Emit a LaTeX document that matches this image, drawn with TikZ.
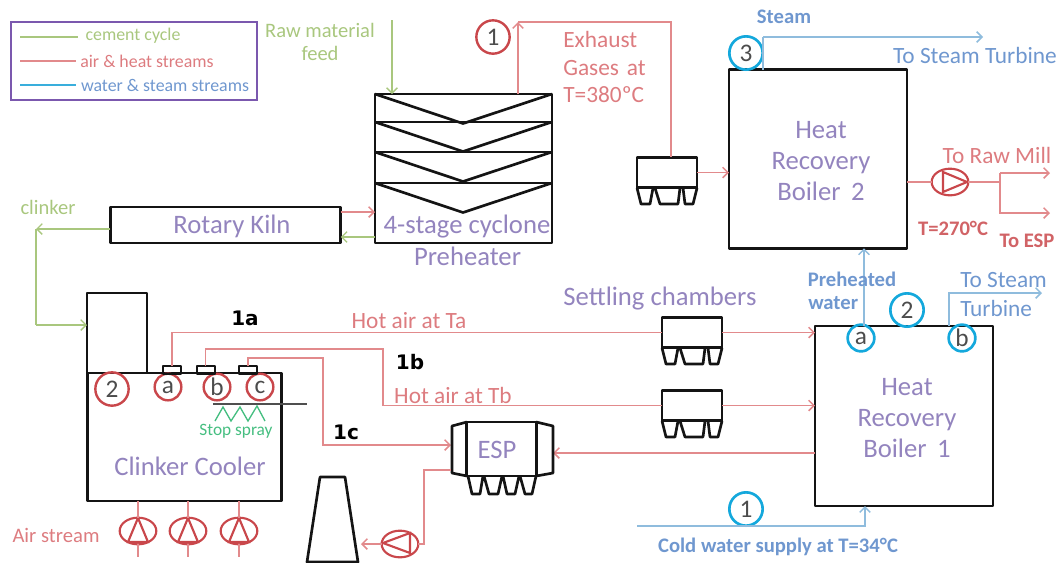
\documentclass[tikz,border=0pt]{standalone}
\usepackage{fontspec}
\setmainfont{Carlito}
\newfontfamily\tagfont{DejaVu Sans}
\definecolor{unitblack}{HTML}{141414}
\definecolor{cycle}{HTML}{A9C77E}
\definecolor{heat}{HTML}{E28A8C}
\definecolor{heatdark}{HTML}{C9474B}
\definecolor{heattext}{HTML}{DD7C80}
\definecolor{water}{HTML}{8FBCDD}
\definecolor{watertext}{HTML}{6F97CF}
\definecolor{ring}{HTML}{14A8DC}
\definecolor{title}{HTML}{9384BE}
\definecolor{frame}{HTML}{7B58AE}
\definecolor{spray}{HTML}{45BE80}
\usetikzlibrary{arrows.meta,shapes.geometric,positioning}
\tikzset{
  unit/.style={draw=unitblack,line width=2.2pt,line join=round},
  unit_box/.style={unit,inner sep=0pt,outer sep=0pt},
  arr_cycle/.style={-{Straight Barb[length=4pt,width=8pt]},draw=cycle,line width=1pt},
  arr_heat/.style={-{Straight Barb[length=4pt,width=8pt]},draw=heat,line width=1.1pt},
  arr_water/.style={-{Straight Barb[length=4pt,width=8pt]},draw=water,line width=1.1pt},
  line_cycle/.style={draw=cycle,line width=1pt},
  line_heat/.style={draw=heat,line width=1.1pt},
  line_water/.style={draw=water,line width=1.1pt},
  txt_title/.style={font=\fontsize{20}{23}\selectfont,text=title,inner sep=0pt,align=center},
  txt_heat/.style={font=\fontsize{17.5}{20.5}\selectfont,text=heattext,inner sep=0pt,align=left},
  txt_water/.style={font=\fontsize{17.5}{20.5}\selectfont,text=watertext,inner sep=0pt,align=left},
  txt_cycle/.style={font=\fontsize{15.4}{17.5}\selectfont,text=cycle,inner sep=0pt,align=center},
  txt_legend/.style={font=\fontsize{13.4}{13.4}\selectfont,inner sep=0pt},
  txt_small/.style={font=\fontsize{15.5}{15.5}\selectfont\bfseries,inner sep=0pt},
  txt_tag/.style={font=\tagfont\bfseries\fontsize{15}{15}\selectfont,text=black,inner sep=0pt},
  ring_red/.style={circle,draw=heatdark,line width=1.8pt,inner sep=0pt,text=black!70,font=\fontsize{19}{19}\selectfont},
  ring_blue/.style={circle,draw=ring,line width=2pt,inner sep=0pt,text=black!70,font=\fontsize{19}{19}\selectfont},
  pump_body/.style={ellipse,draw=heatdark,line width=1.6pt,minimum width=27.5pt,minimum height=20pt,inner sep=0pt,outer sep=0pt},
}
\newcommand{\settler}[3]{%
  \node[unit_box,minimum width=45pt,minimum height=23pt] (#1) at (#2+30,#3+15.5) {};
  \draw[unit,line width=2pt,shift={(#2,#3+31)}] (0,0)--(4,16)--(13,16)--(16,0) (18,0)--(23,16)--(41,16)--(43,0) (46,0)--(48,16)--(56,16)--(60,0);
}
\newcommand{\pump}[4]{%
  \node[pump_body] (#1) at (#2,#3) {};
  \draw[draw=heatdark,line width=1.6pt,shift={(#2,#3)}] #4;
}
\begin{document}
\begin{tikzpicture}[x=0.75pt,y=-0.75pt,node distance=6pt]
    \useasboundingbox (0,0) rectangle (1058,562);

    \node[draw=frame,line width=2pt,minimum width=184.5pt,minimum height=58.5pt,inner sep=0pt] (legend) at (134,61) {};
    \coordinate (lg1) at (20,37);\coordinate (lg1e) at (78,37);
    \coordinate (lg2) at (20,61);\coordinate (lg2e) at (76,61);
    \coordinate (lg3) at (20,85);\coordinate (lg3e) at (76,85);
    \draw[line_cycle](lg1)--(lg1e);\draw[line_heat](lg2)--(lg2e);\draw[draw=ring!70!water,line width=1.1pt](lg3)--(lg3e);
    \node[txt_legend,text=cycle] (lg1t) at (133,36) {cement cycle};
    \node[txt_legend,text=heattext] (lg2t) at (147,61) {air \& heat streams};
    \node[txt_legend,text=watertext] (lg3t) at (165,85) {water \& steam streams};

    \node[txt_cycle] (raw) at (320,42) {Raw material\\feed};
    \coordinate (rawin) at (392,20);
    \node[unit_box,minimum width=132.75pt,minimum height=111.75pt] (pre) at (463.5,168.5) {};
    \draw[unit,line width=2pt] (pre.west |- 0,122)--(pre.east |- 0,122) (pre.west |- 0,152)--(pre.east |- 0,152) (pre.west |- 0,183)--(pre.east |- 0,183);
    \foreach \y in {94,122,152,183}{
      \draw[unit,line width=2pt] (375,\y)--(463,\y+29.5)--(552,\y);
    }
    \draw[arr_cycle](rawin)--(rawin |- pre.north);
    \node[txt_title] (pre1) at (467,227) {4-stage cyclone};
    \node[txt_title,below=3pt of pre.south,xshift=3pt] (pre2) {Preheater};

    \node[unit_box,minimum width=173pt,minimum height=27pt] (kiln) at (225.5,225) {};
    \node[txt_title] (kilnt) at (232,226) {Rotary Kiln};
    \coordinate (klevel) at (0,212);
    \coordinate (glevel) at (0,237);
    \draw[arr_heat](kiln.east |- klevel)--(pre.west |- klevel);
    \draw[arr_cycle](pre.west |- glevel)--(kiln.east |- glevel);
    \node[txt_cycle] (clk) at (48,207) {clinker};
    \coordinate (clkc) at (36,229);
    \coordinate (clkd) at (36,325);
    \draw[arr_cycle](kiln.west |- clkc)--(clkc);
    \draw[line_cycle](clkc)--(clkd);

    \node[unit_box,minimum width=146pt,minimum height=96pt] (cooler) at (184.5,437) {};
    \node[unit_box,minimum width=45pt,minimum height=60pt] (hood) at (117,333) {};
    \draw[arr_cycle](clkd)--(hood.west |- clkd);
    \node[txt_title] (coolt) at (190,466) {Clinker Cooler};
    \node[ring_red,minimum size=25pt] (r2) at (112,389) {2};
    \node[ring_red,minimum size=20pt] (ra) at (168,387) {a};
    \node[ring_red,minimum size=20pt] (rb) at (217,387) {b};
    \node[ring_red,minimum size=20pt] (rc) at (260,387) {c};
    \foreach \name/\x in {slota/172,slotb/205.5,slotc/248}{
      \node[unit_box,line width=1.5pt,minimum width=13.5pt,minimum height=6pt] (\name) at (\x,370) {};
    }

    \coordinate (sprayl) at (213,404);
    \coordinate (sprayr) at (307,404);
    \draw[draw=unitblack!75,line width=.9pt](sprayl)--(sprayr);
    \draw[draw=spray,line width=1pt] (215,421)--(223,407)--(231,421)--(240,407)--(248,421)--(257,406)--(265,421);
    \node[font=\fontsize{13}{13}\selectfont,text=spray,inner sep=0pt] (sprayt) at (236,431) {Stop spray};

    \foreach \name/\x in {fana/138,fanb/188,fanc/239}{
      \pump{\name}{\x}{531}{(0,-13)--(-10,11)--(10,11)--cycle}
      \coordinate (\name e) at (\x,557);
      \draw[line_heat](\name)--(\name |- cooler.south);
      \draw[line_heat](\name.south)--(\name e);
    }
    \node[txt_heat,font=\fontsize{15.5}{15.5}\selectfont] (airt) at (56,535) {Air stream};

    \settler{sca}{662}{317}
    \settler{scb}{662}{390}
    \settler{scc}{637}{157}
    \node[txt_title] (sett) at (660,299) {Settling chambers};

    \node[unit_box,minimum width=133.5pt,minimum height=135pt] (boila) at (904,416) {};
    \node[txt_title] (boilat) at (907,418) {Heat\\Recovery\\Boiler\ \,1};
    \node[unit_box,minimum width=133.5pt,minimum height=134pt] (boilb) at (818,159) {};
    \node[txt_title] (boilbt) at (821,161) {Heat\\Recovery\\Boiler\ \,2};

    \coordinate (bend1b) at (383,349);
    \coordinate (bend1c) at (323,358);
    \coordinate (espin) at (451,445);
    \coordinate (espout) at (451,470);
    \coordinate (espback) at (553,453);
    \draw[line_heat](slota.north) |- (sca.west);
    \draw[line_heat](slotb.north) |- (bend1b) |- (scb.west);
    \draw[arr_heat](slotc.north) |- (bend1c) |- (espin);
    \draw[arr_heat](sca.east)--(boila.west |- sca.east);
    \draw[arr_heat](scb.east)--(boila.west |- scb.east);
    \draw[arr_heat](boila.west |- espback)--(espback);
    \node[txt_heat] (hota) at (409,321) {Hot air at Ta};
    \node[txt_heat] (hotb) at (453,395) {Hot air at Tb};
    \node[txt_tag] (t1a) at (245,318) {1a};
    \node[txt_tag] (t1b) at (410,362) {1b};
    \node[txt_tag] (t1c) at (346,432) {1c};

    \node[unit_box,minimum width=52pt,minimum height=40.5pt] (esp) at (501.5,449) {};
    \draw[unit,line width=2pt] (esp.north west)--(452,426)--(452,473)--(esp.south west);
    \draw[unit,line width=2pt] (esp.north east)--(553,426)--(553,473)--(esp.south east);
    \draw[unit,line width=2pt,shift={(468,476)}] (0,0)--(4,18)--(12,18)--(15,0) (16,0)--(21,18)--(30,18)--(34,0) (35,0)--(39,18)--(47,18)--(51,0) (52,0)--(57,18)--(64,18)--(68,0);
    \node[txt_title] (espt) at (497,450) {ESP};

    \pump{fand}{400}{544}{(-17,-1)--(10,-11)--(10,9)--cycle}
    \draw[unit,line width=2pt] (320,477)--(345,477)--(358,562)--(307,562)--cycle;
    \coordinate (stackin) at (361,544);
    \coordinate (espdown) at (424,544);
    \draw[arr_heat](fand.west)--(stackin);
    \draw[line_heat](fand.east)--(espdown) |- (espout);

    \coordinate (exh) at (518,22);
    \draw[arr_heat](exh |- pre.north)--(exh);
    \draw[line_heat](exh) -| ([xshift=3pt]scc.north);
    \node[ring_red,minimum size=25pt] (one) at (493,37) {1};
    \node[txt_heat,text width=70pt] (exht) at (610,67) {Exhaust\\Gases at\\T=380ºC};

    \draw[arr_heat](scc.east)--(boilb.west |- scc.east);
    \pump{fane}{950}{182}{(17,0)--(-7,-10)--(-7,10)--cycle}
    \coordinate (split) at (1000,182);
    \coordinate (rawm) at (1050,173);
    \coordinate (toesp) at (1050,213);
    \draw[line_heat](boilb.east |- fane)--(fane.west);
    \draw[line_heat](fane.east)--(split);
    \draw[arr_heat](split |- rawm)--(rawm);
    \draw[line_heat](split)--(split |- rawm);
    \draw[arr_heat](split) |- (toesp);
    \node[txt_heat] (rawt) at (997,155) {To Raw Mill};
    \node[txt_small,text=heatdark!85] (t270) at (953,228) {T=270°C};
    \node[txt_small,text=heatdark!85] (tesp) at (1027,241) {To ESP};

    \node[ring_blue,minimum size=25pt] (c3) at (746,53) {3};
    \coordinate (stm) at (763,37);
    \coordinate (stme) at (983,37);
    \draw[line_water](stm |- boilb.north)--(stm);
    \draw[arr_water](stm)--(stme);
    \node[txt_small,text=watertext] (stmt) at (784,17) {Steam};
    \node[txt_water] (stmto) at (975,55) {To Steam Turbine};

    \node[ring_blue,minimum size=20pt] (ca) at (861,338) {a};
    \node[ring_blue,minimum size=20pt] (cb) at (962,338) {b};
    \node[ring_blue,minimum size=25pt] (c2) at (907,310) {2};
    \node[ring_blue,minimum size=25pt] (c1) at (746,509) {1};
    \coordinate (prew) at (864,326);
    \draw[arr_water](prew)--(prew |- boilb.south);
    \coordinate (tsup) at (949,326);
    \coordinate (tsbend) at (949,293);
    \coordinate (tsend) at (1042,293);
    \draw[arr_water](tsup) -- (tsbend) -- (tsend);
    \coordinate (cold) at (637,526);
    \coordinate (coldup) at (865,526);
    \draw[arr_water](cold) -- (coldup) -- (coldup |- boila.south);
    \node[txt_small,text=watertext] (pret) at (852,279) {Preheated};
    \node[txt_small,text=watertext,anchor=west] (watt) at (808,303) {water};
    \node[txt_water,anchor=west] (tss) at (960,280) {To Steam};
    \node[txt_water,anchor=west] (tst) at (960,308) {Turbine};
    \node[txt_small,text=watertext] (coldt) at (778,547) {Cold water supply at T=34°C};
  \end{tikzpicture}
\end{document}
